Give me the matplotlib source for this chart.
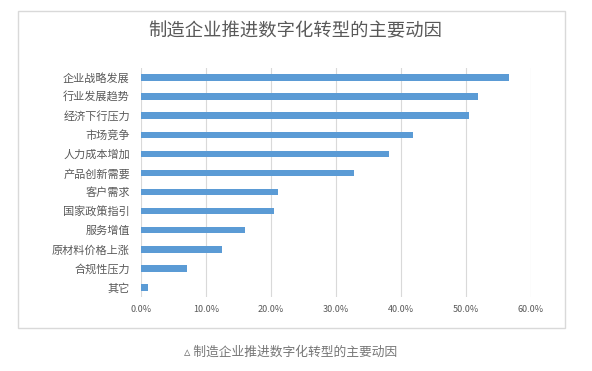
import matplotlib
matplotlib.use('Agg')
import matplotlib.pyplot as plt
from matplotlib.patches import Rectangle
from matplotlib.ticker import FuncFormatter

plt.rcParams['font.family'] = ['Noto Sans CJK SC', 'DejaVu Sans']

# data, top to bottom
categories = ['企业战略发展', '行业发展趋势', '经济下行压力', '市场竞争', '人力成本增加',
              '产品创新需要', '客户需求', '国家政策指引', '服务增值', '原材料价格上涨',
              '合规性压力', '其它']
values = [0.566, 0.518, 0.505, 0.419, 0.382, 0.327, 0.210, 0.204, 0.160, 0.125, 0.071, 0.011]
x_ticks = [0.0, 0.1, 0.2, 0.3, 0.4, 0.5, 0.6]

title = '制造企业推进数字化转型的主要动因'
caption = '▵ 制造企业推进数字化转型的主要动因'

W, H = 592, 371
fig = plt.figure(figsize=(W / 100, H / 100), dpi=100)

# outer chart frame
fig.patches.append(Rectangle((18 / W, 1 - 328 / H), (565 - 18) / W, (328 - 11) / H,
                             transform=fig.transFigure, fill=False,
                             edgecolor='#d9d9d9', linewidth=1))

ax = fig.add_axes([141 / W, 1 - 297 / H, (531 - 141) / W, (297 - 68) / H])
pos = list(range(len(categories)))
ax.barh(pos, values, height=0.34, color='#5b9bd5', zorder=3)
ax.set_ylim(len(categories) - 0.5, -0.5)
ax.set_xlim(0, 0.6)
ax.set_yticks(pos)
ax.set_yticklabels(categories, fontsize=8, color='#595959')
ax.set_xticks(x_ticks)
ax.xaxis.set_major_formatter(FuncFormatter(lambda v, p: '%.1f%%' % (v * 100)))
ax.tick_params(axis='x', labelsize=6.5, colors='#595959', length=0, pad=6)
ax.tick_params(axis='y', length=0, pad=8)
ax.grid(axis='x', color='#d9d9d9', linewidth=0.8, zorder=0)
for s in ax.spines.values():
    s.set_visible(False)

fig.text(295 / W, 1 - 31 / H, title, ha='center', va='center', fontsize=13.2, color='#595959')
fig.text(291 / W, 1 - 352 / H, caption, ha='center', va='center', fontsize=9.2, color='#777777')

fig.savefig('out.png', dpi=100)
